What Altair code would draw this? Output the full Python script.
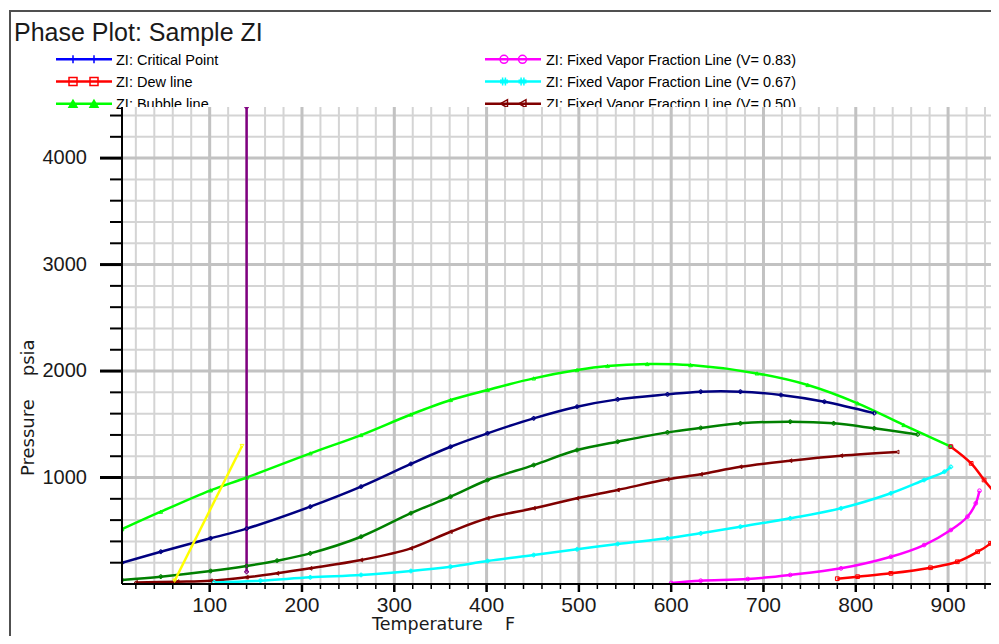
import altair as alt
import pandas as pd

# ---------------- data ----------------
bubble_T = [5, 47, 101, 140, 209, 264, 318, 361, 401, 451, 498, 531, 574, 621, 693, 748, 802, 852, 903]
bubble_P = [515, 679, 880, 1000, 1227, 1399, 1592, 1728, 1822, 1931, 2009, 2047, 2066, 2056, 1978, 1869, 1697, 1493, 1290]

dew_T = [780, 802, 838, 881, 910, 932, 946, 956, 964, 956, 939, 925, 903]
dew_P = [50, 69, 100, 153, 209, 303, 382, 491, 640, 789, 977, 1133, 1290]

v17_T = [5, 47, 101, 140, 209, 264, 318, 361, 401, 451, 498, 542, 596, 632, 675, 719, 766, 820]
v17_P = [200, 303, 429, 520, 726, 914, 1128, 1289, 1415, 1556, 1665, 1734, 1781, 1806, 1806, 1775, 1712, 1605]

v33_T = [5, 47, 101, 140, 173, 209, 264, 318, 361, 401, 451, 498, 542, 596, 632, 675, 729, 776, 820, 867]
v33_P = [38, 69, 122, 169, 219, 288, 444, 665, 820, 977, 1117, 1258, 1336, 1424, 1466, 1509, 1524, 1509, 1462, 1405]

v50_T = [20, 65, 101, 140, 173, 209, 264, 318, 361, 401, 451, 498, 542, 596, 632, 675, 729, 784, 845]
v50_P = [15, 22, 31, 63, 100, 147, 225, 335, 491, 617, 711, 805, 883, 983, 1030, 1101, 1158, 1205, 1240]

v67_T = [105, 155, 209, 264, 318, 361, 401, 451, 498, 542, 596, 632, 675, 729, 784, 838, 874, 896, 903]
v67_P = [15, 31, 63, 85, 122, 162, 216, 272, 326, 376, 429, 476, 538, 617, 711, 852, 977, 1054, 1100]

v83_T = [600, 632, 683, 729, 784, 838, 874, 903, 921, 930, 934]
v83_P = [10, 31, 47, 85, 147, 256, 366, 507, 632, 758, 876]

crit_T = [903]
crit_P = [1290]

sep_T = [62, 135]
sep_P = [30, 1296]

res_T = [140, 140]
res_P = [115, 4480]

series_names = ["crit", "v17", "v33", "v50", "v67", "v83", "bubble", "dew", "sep", "res"]
series_colors = ["#0000ff", "#000080", "#008000", "#800000", "#00ffff", "#ff00ff",
                 "#00ff00", "#ff0000", "#ffff00", "#800080"]
series_shapes = ["cross", "cross", "cross", "triangle-left", "cross", "circle",
                 "triangle-up", "square", "triangle-down", "cross"]

x_ticks = [100, 200, 300, 400, 500, 600, 700, 800, 900]
y_ticks = [1000, 2000, 3000, 4000]
x_minor = list(range(20, 941, 20))
y_minor = list(range(200, 4401, 200))

x_title = "Temperature\u00a0\u00a0\u00a0\u00a0F"
y_title = "Pressure\u00a0\u00a0\u00a0\u00a0psia"
chart_title = "Phase Plot: Sample ZI"

legend_labels = ["ZI: Critical Point", "ZI: Dew line", "ZI: Bubble line",
                 "ZI: Fixed Vapor Fraction Line (V= 0.83)",
                 "ZI: Fixed Vapor Fraction Line (V= 0.67)",
                 "ZI: Fixed Vapor Fraction Line (V= 0.50)"]
legend_colors = ["#0000ff", "#ff0000", "#00ff00", "#ff00ff", "#00ffff", "#800000"]
cross_path = "M-1,0H1M0,-1V1"
hash_path = "M-0.35,-1V1M0.35,-1V1M-1,-0.3H1M-1,0.3H1"
legend_shapes = [cross_path, "square", "triangle-up", "circle", hash_path, "triangle-left"]
legend_fill = ["transparent", "transparent", "#00ff00", "transparent", "transparent", "transparent"]

# ---------------- build tables ----------------
curves = {
    "crit": (crit_T, crit_P), "v17": (v17_T, v17_P), "v33": (v33_T, v33_P),
    "v50": (v50_T, v50_P), "v67": (v67_T, v67_P), "v83": (v83_T, v83_P),
    "bubble": (bubble_T, bubble_P), "dew": (dew_T, dew_P),
    "sep": (sep_T, sep_P), "res": (res_T, res_P),
}
rows = []
for name in series_names:
    T, P = curves[name]
    for i, (t, p) in enumerate(zip(T, P)):
        rows.append({"series": name, "i": i, "T": t, "P": p})
df = pd.DataFrame(rows)

W, H = 869, 477
PL, PT = 114, 99

leg_rows = []
for k, lab in enumerate(legend_labels):
    col, row = k // 3, k % 3
    leg_rows.append({"label": lab, "c": legend_colors[k],
                     "x1": [-66, 363][col], "x2": [-10, 419][col],
                     "ly": -47.7 + row * 22.2,
                     "tx": [-6, 424][col], "ty": -42 + row * 22})
leg = pd.DataFrame(leg_rows)
mk_rows = []
for k in range(len(legend_labels)):
    col, row = k // 3, k % 3
    for mx in [[-49, -28], [382, 400.5]][col]:
        mk_rows.append({"mx": mx, "my": -47.7 + row * 22.2, "c": legend_colors[k],
                        "s": legend_shapes[k], "f": legend_fill[k]})
mk = pd.DataFrame(mk_rows)

one = pd.DataFrame({"a": [0]})
xt = pd.DataFrame({"v": x_ticks})
yt = pd.DataFrame({"v": y_ticks})
xm = pd.DataFrame({"v": x_minor})
ym = pd.DataFrame({"v": y_minor})

xs = alt.Scale(domain=[5, 946.5], nice=False, zero=False)
ys = alt.Scale(domain=[0, 4480], nice=False, zero=False)
cscale = alt.Scale(domain=series_names, range=series_colors)
sscale = alt.Scale(domain=series_names, range=series_shapes)

def X(f):
    return alt.X(f, scale=xs, axis=None)

def Y(f):
    return alt.Y(f, scale=ys, axis=None)

frame = alt.Chart(one).mark_rect(fillOpacity=0, stroke="#505050", strokeWidth=2).encode(
    x=alt.value(-112), x2=alt.value(3000), y=alt.value(-96), y2=alt.value(3000))

title = alt.Chart(one).mark_text(text=chart_title, align="left", baseline="alphabetic",
                                 font="Liberation Sans", fontSize=25, color="#1a1a1a").encode(
    x=alt.value(-108), y=alt.value(-66))

leg_lines = alt.Chart(leg).mark_rule(strokeWidth=2.5).encode(
    x=alt.X("x1:Q", scale=None, axis=None), x2="x2:Q",
    y=alt.Y("ly:Q", scale=None, axis=None),
    color=alt.Color("c:N", scale=None, legend=None))

leg_marks = alt.Chart(mk).mark_point(size=64, strokeWidth=1.5, opacity=1, filled=False).encode(
    x=alt.X("mx:Q", scale=None, axis=None), y=alt.Y("my:Q", scale=None, axis=None),
    stroke=alt.Stroke("c:N", scale=None, legend=None),
    fill=alt.Fill("f:N", scale=None, legend=None),
    shape=alt.Shape("s:N", scale=None, legend=None))

leg_text = alt.Chart(leg).mark_text(align="left", baseline="alphabetic", font="Liberation Sans",
                                    fontSize=14.5, color="black").encode(
    x=alt.X("tx:Q", scale=None, axis=None), y=alt.Y("ty:Q", scale=None, axis=None),
    text="label:N")

white = alt.Chart(one).mark_rect(color="white").encode(
    x=alt.value(0), x2=alt.value(W), y=alt.value(0), y2=alt.value(H))

gx_minor = alt.Chart(xm).mark_rule(color="#d4d4d4", strokeWidth=2).encode(x=X("v:Q"))
gy_minor = alt.Chart(ym).mark_rule(color="#d4d4d4", strokeWidth=2).encode(y=Y("v:Q"))
gx_major = alt.Chart(xt).mark_rule(color="#c2c2c2", strokeWidth=3).encode(x=X("v:Q"))
gy_major = alt.Chart(yt).mark_rule(color="#c2c2c2", strokeWidth=3).encode(y=Y("v:Q"))

lines = alt.Chart(df).mark_line(strokeWidth=2.5, clip=True, interpolate="catmull-rom").encode(
    x=X("T:Q"), y=Y("P:Q"),
    color=alt.Color("series:N", scale=cscale, legend=None),
    detail="series:N",
    order=alt.Order("i:Q"))

points = alt.Chart(df).mark_point(size=14, strokeWidth=1, opacity=1, filled=False, clip=True).encode(
    x=X("T:Q"), y=Y("P:Q"),
    color=alt.Color("series:N", scale=cscale, legend=None),
    shape=alt.Shape("series:N", scale=sscale, legend=None))

# ---- axes (ticks, labels, titles) ----
tx_minor = alt.Chart(xm).mark_rule(color="black", strokeWidth=1.5).encode(
    x=X("v:Q"), y=alt.value(H), y2=alt.value(H + 5))
ty_minor = alt.Chart(ym).mark_rule(color="black", strokeWidth=2).encode(
    y=Y("v:Q"), x=alt.value(-12), x2=alt.value(0))
tx_major = alt.Chart(xt).mark_rule(color="black", strokeWidth=2.5).encode(
    x=X("v:Q"), y=alt.value(H), y2=alt.value(H + 8))
ty_major = alt.Chart(yt).mark_rule(color="black", strokeWidth=3).encode(
    y=Y("v:Q"), x=alt.value(-22), x2=alt.value(0))
x_domain = alt.Chart(one).mark_rule(color="black", strokeWidth=2).encode(
    x=alt.value(0), x2=alt.value(W), y=alt.value(H))
y_domain = alt.Chart(one).mark_rule(color="black", strokeWidth=2).encode(
    x=alt.value(0), y=alt.value(0), y2=alt.value(H))
x_labels = alt.Chart(xt).mark_text(align="center", baseline="alphabetic", font="Liberation Sans",
                                   fontSize=21, color="#1a1a1a").encode(
    x=X("v:Q"), y=alt.value(H + 28), text=alt.Text("v:Q", format="d"))
y_labels = alt.Chart(yt).mark_text(align="right", baseline="middle", font="Liberation Sans",
                                   fontSize=20, color="#1a1a1a").encode(
    y=Y("v:Q"), x=alt.value(-35), text=alt.Text("v:Q", format="d"))
x_tl = alt.Chart(one).mark_text(text=x_title, align="left", baseline="alphabetic",
                                font="DejaVu Sans", fontSize=17.5, color="#1a1a1a").encode(
    x=alt.value(250), y=alt.value(H + 46))
y_tl = alt.Chart(one).mark_text(text=y_title, align="left", baseline="alphabetic", angle=270,
                                font="DejaVu Sans", fontSize=18, color="#1a1a1a").encode(
    x=alt.value(-88), y=alt.value(369))

chart = alt.layer(
    frame, title, leg_lines, leg_marks, leg_text, white,
    gx_minor, gy_minor, gx_major, gy_major,
    lines, points,
    tx_minor, ty_minor, tx_major, ty_major, x_domain, y_domain,
    x_labels, y_labels, x_tl, y_tl
).properties(
    width=W, height=H, autosize="none",
    padding={"left": PL, "top": PT, "right": 0, "bottom": 52},
    background="white"
).configure_view(stroke=None)

chart.save("out.html", embed_options={"renderer": "svg", "actions": False})
